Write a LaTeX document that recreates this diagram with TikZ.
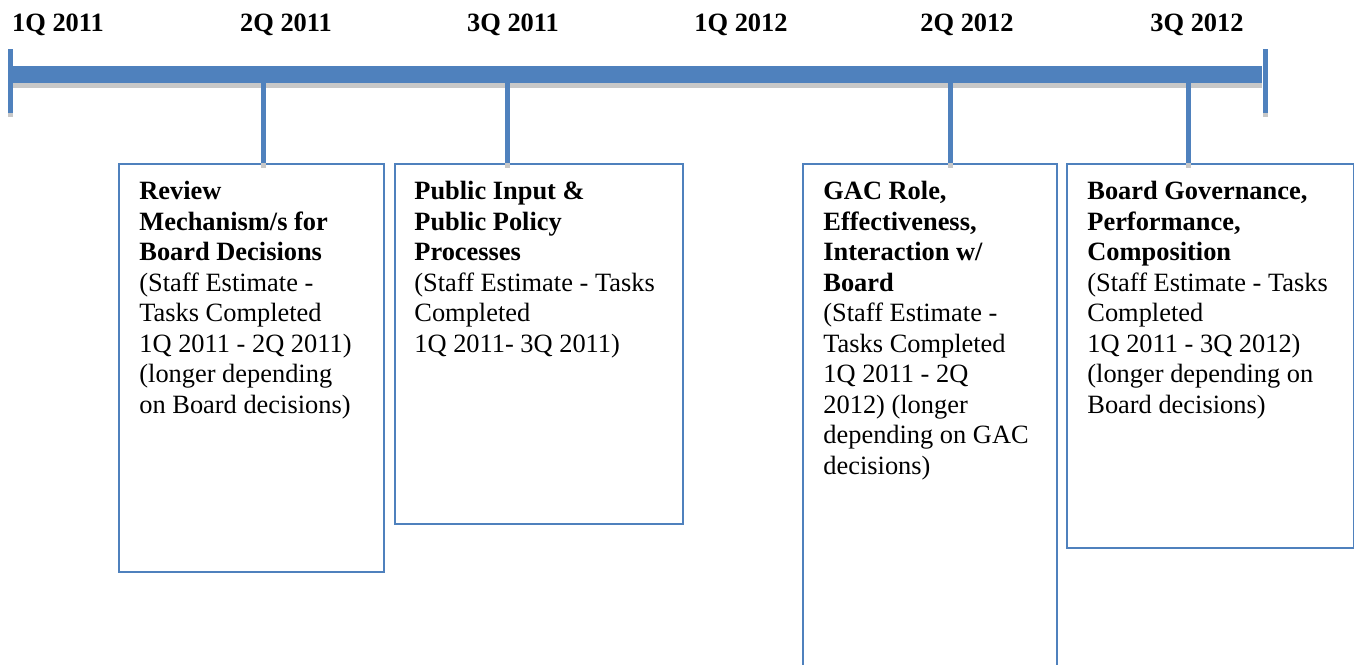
\documentclass[tikz,border=0pt]{standalone}
\usepackage{fontspec}
\setmainfont{Liberation Serif}
\usetikzlibrary{positioning}
\definecolor{lineblue}{RGB}{79,129,189}
\definecolor{shadegray}{RGB}{200,200,200}

\begin{document}
\begin{tikzpicture}[x=0.5pt,y=-0.5pt,
        qlabel/.style={font=\fontsize{13.2}{15.25}\selectfont\bfseries,anchor=base,inner sep=0pt},
        taskbox/.style={draw=lineblue,line width=0.8pt,anchor=north west,inner sep=0pt},
        tasktext/.style={font=\fontsize{13.2}{15.25}\selectfont,align=left,inner sep=0pt},
        barline/.style={lineblue,line width=8.5pt},
        tickline/.style={lineblue,line width=2.5pt},
        shadeline/.style={shadegray,line width=2.5pt}]
        \useasboundingbox (0,0) rectangle (1354,664);
        \clip (0,0) rectangle (1354,664);

        % quarters
        \node[qlabel] (q1a) at (58,32) {1Q 2011};
        \node[qlabel] (q2a) at (286,32) {2Q 2011};
        \node[qlabel] (q3a) at (513,32) {3Q 2011};
        \node[qlabel] (q1b) at (741,32) {1Q 2012};
        \node[qlabel] (q2b) at (967,32) {2Q 2012};
        \node[qlabel] (q3b) at (1197,32) {3Q 2012};

        % the bar
        \coordinate (barL) at (10,74.5);
        \coordinate (barR) at (1262,74.5);
        \draw[shadegray,line width=8.5pt] ([yshift=-2.5pt]barL) -- ([yshift=-2.5pt]barR);
        \draw[barline] (barL) -- (barR);
        \draw[shadeline] (10,53) -- (10,117);
        \draw[tickline] (10,49) -- (10,113);
        \draw[shadeline] (1265.5,53) -- (1265.5,117);
        \draw[tickline] (1265.5,49) -- (1265.5,113);

        % boxes
        \node[taskbox,minimum width=132.5pt,minimum height=204pt] (revbox) at (118,163) {};
        \node[taskbox,minimum width=144pt,minimum height=180pt] (pubbox) at (394,163) {};
        \node[taskbox,minimum width=127pt,minimum height=270pt] (gacbox) at (802,163) {};
        \node[taskbox,minimum width=143.5pt,minimum height=192pt] (govbox) at (1066,163) {};

        \node[tasktext,below right=9pt and 10.5pt of revbox.north west] (revtext)
            {\textbf{Review}\\\textbf{Mechanism/s for}\\\textbf{Board Decisions}\\(Staff Estimate -\\Tasks Completed\\1Q 2011 - 2Q 2011)\\(longer depending\\on Board decisions)};
        \node[tasktext,below right=9pt and 10pt of pubbox.north west] (pubtext)
            {\textbf{Public Input \&}\\\textbf{Public Policy}\\\textbf{Processes}\\(Staff Estimate - Tasks\\Completed\\1Q 2011- 3Q 2011)};
        \node[tasktext,below right=9pt and 10.5pt of gacbox.north west] (gactext)
            {\textbf{GAC Role,}\\\textbf{Effectiveness,}\\\textbf{Interaction w/}\\\textbf{Board}\\(Staff Estimate -\\Tasks Completed\\1Q 2011 - 2Q\\2012) (longer\\depending on GAC\\decisions)};
        \node[tasktext,below right=9pt and 10.5pt of govbox.north west] (govtext)
            {\textbf{Board Governance,}\\\textbf{Performance,}\\\textbf{Composition}\\(Staff Estimate - Tasks\\Completed\\1Q 2011 - 3Q 2012)\\(longer depending on\\Board decisions)};

        % drops from the bar
        \coordinate (d1) at (263,83);
        \coordinate (d2) at (507,83);
        \coordinate (d3) at (950,83);
        \coordinate (d4) at (1188,83);
        \foreach \d/\b in {d1/revbox,d2/pubbox,d3/gacbox,d4/govbox}{
            \draw[shadeline] (\d |- \b.north) -- ++(0,5);
            \draw[tickline] (\d) -- (\d |- \b.north);
        }
    \end{tikzpicture}
\end{document}
